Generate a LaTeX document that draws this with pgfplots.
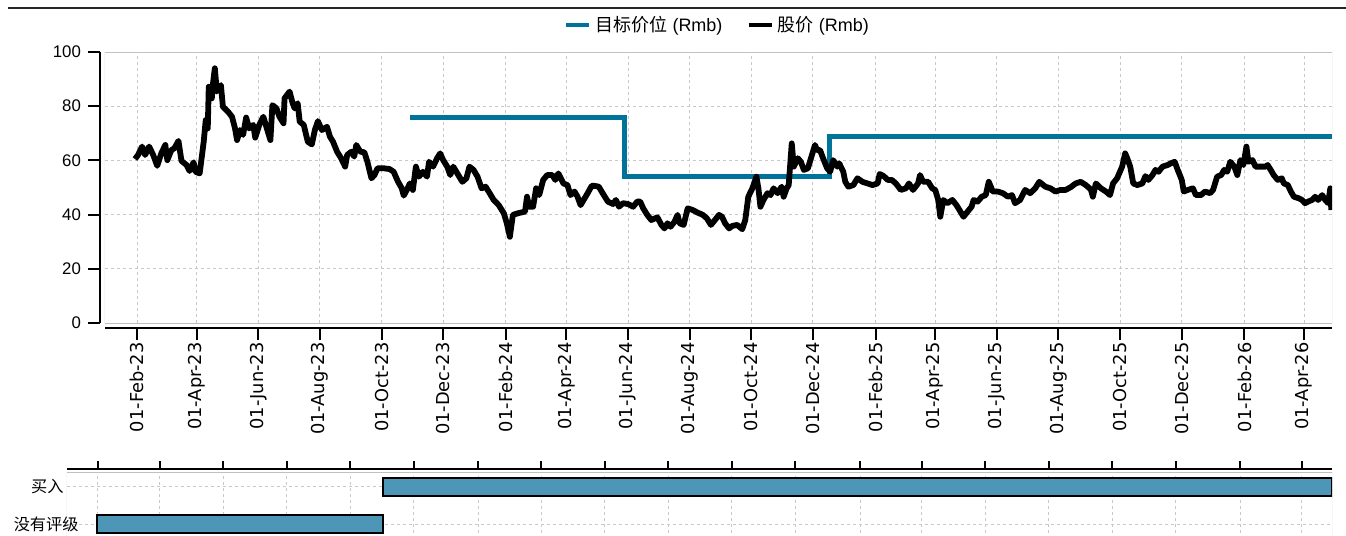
\documentclass[border=0pt]{standalone}
\usepackage{fontspec}
\setmainfont{Liberation Sans}
\newfontfamily\cjk{Noto Sans CJK SC}
\newfontfamily\dejavu{DejaVu Sans}
\usepackage{pgfplots}
\usepackage{pgfplotstable}
\pgfplotsset{compat=1.18}

\definecolor{tgtblue}{RGB}{0,115,152}
\definecolor{barblue}{RGB}{78,150,184}
\definecolor{gridgray}{RGB}{200,200,200}
\definecolor{framegray}{RGB}{192,192,192}

% day = days since 2023-01-01, price in Rmb
\pgfplotstableread{
day price
29 60.5
32 62.0
36 65.1
39 62.0
43 65.1
47 62.0
51 58.0
55 62.6
59 65.7
61 60.1
65 63.8
68 64.5
72 67.2
75 59.8
80 58.3
83 56.1
87 59.3
89 55.8
93 55.2
97 66.9
99 74.9
101 71.8
102 87.2
105 82.9
106 87.8
108 94.0
110 85.4
114 87.8
116 79.8
121 78.0
125 76.1
128 71.8
130 67.5
133 71.2
136 69.4
139 75.8
142 71.8
146 73.1
148 68.4
152 73.1
156 76.1
159 72.4
163 67.5
165 80.4
169 79.2
172 76.1
176 73.7
177 82.9
182 85.4
185 81.1
187 79.2
190 81.1
192 74.3
196 73.1
200 66.9
204 65.9
207 71.2
210 74.5
214 71.2
219 72.4
222 68.7
225 66.9
229 63.2
233 60.8
237 57.7
239 62.0
243 63.2
246 61.4
248 65.7
252 63.2
256 63.0
259 59.5
263 53.4
266 54.6
269 57.1
275 57.1
281 56.8
285 55.8
289 52.4
293 49.7
295 47.0
298 49.1
301 51.5
304 49.1
307 57.7
310 54.0
314 55.8
318 54.0
320 59.5
324 57.7
328 60.8
331 62.6
334 60.1
338 57.7
341 54.6
344 57.7
348 55.2
353 52.1
357 53.4
360 57.7
364 56.5
368 54.0
372 49.7
376 50.3
380 47.9
384 45.4
389 43.5
394 40.5
397 36.8
400 31.8
403 39.9
408 40.5
415 41.1
417 46.6
419 42.9
423 42.9
426 49.7
429 47.2
433 52.8
437 54.6
442 54.6
445 52.8
448 55.2
453 51.5
457 50.9
460 47.2
464 48.5
467 46.6
470 43.5
473 45.4
477 47.9
481 50.6
484 50.6
488 50.3
493 47.2
497 44.8
502 43.9
505 45.4
508 42.9
512 44.2
517 43.9
522 42.9
526 44.8
529 44.8
532 42.3
536 39.9
540 38.0
546 39.0
550 36.2
553 34.9
556 36.8
559 35.5
563 37.4
566 39.9
568 36.8
572 36.2
576 42.3
581 41.7
586 40.7
591 39.9
595 38.6
599 36.2
603 38.0
607 39.9
610 39.2
613 36.8
617 34.9
620 35.8
625 36.2
630 34.6
633 38.0
636 46.6
640 49.7
644 54.0
646 49.7
648 42.9
651 45.4
655 47.9
658 47.2
661 49.7
665 47.9
669 50.3
671 46.6
674 49.7
676 50.9
679 66.3
681 57.7
685 60.8
688 59.5
691 56.5
695 57.1
698 60.8
702 65.7
704 63.8
707 63.8
710 60.8
714 57.1
717 55.8
720 60.1
724 57.7
726 58.9
730 55.8
732 52.1
735 50.3
740 50.9
744 53.4
749 52.1
754 51.5
759 50.9
764 51.5
766 55.0
770 54.2
774 52.8
778 52.8
782 51.5
787 49.1
792 49.7
795 51.5
799 49.1
804 51.5
806 54.6
809 52.1
814 52.1
818 49.7
821 49.1
824 45.4
826 39.2
829 45.4
833 44.2
838 45.4
842 43.5
845 41.7
849 39.2
853 41.1
857 42.9
859 45.4
863 44.8
867 46.6
871 47.2
874 52.1
878 48.5
883 48.5
888 47.9
893 46.6
897 47.2
900 44.2
905 45.4
910 49.1
915 47.9
920 49.7
924 52.1
930 50.3
935 49.7
940 48.5
945 49.1
950 49.1
955 50.1
960 51.5
965 52.1
970 50.9
975 49.3
977 46.6
980 51.5
985 49.7
990 48.5
994 47.2
997 51.5
1001 53.4
1006 57.7
1009 62.6
1011 60.8
1014 57.7
1017 51.5
1021 50.9
1026 51.5
1029 54.2
1032 52.8
1036 54.6
1039 56.5
1042 55.8
1046 57.7
1051 58.3
1054 58.9
1058 59.5
1061 56.5
1065 52.8
1067 48.5
1071 49.1
1076 49.7
1079 47.2
1084 47.2
1088 48.5
1093 47.9
1096 49.1
1100 54.0
1104 54.6
1107 56.5
1110 55.8
1113 59.5
1117 57.7
1120 54.6
1123 60.1
1126 58.3
1129 65.1
1131 59.5
1135 60.1
1138 57.7
1143 57.7
1148 57.7
1150 58.3
1153 56.5
1156 54.6
1160 52.8
1164 53.4
1166 51.5
1170 50.9
1173 48.5
1176 46.6
1181 46.0
1184 45.4
1187 44.2
1190 44.8
1194 45.4
1197 46.6
1200 45.4
1204 47.2
1207 45.4
1210 44.2
1212 49.7
1213 41.7
}\pricetable

\begin{document}
\begin{tikzpicture}
\path[use as bounding box] (-52.5pt,-106.5pt) rectangle (620.5pt,161.5pt);
\draw[line width=1pt, black!85] (-48.5pt,157.25pt) -- (620.5pt,157.25pt);

\begin{axis}[
  at={(0pt,0pt)}, anchor=south west,
  scale only axis, width=613.5pt, height=135.5pt,
  xmin=-0.7, xmax=1213.7, ymin=0, ymax=100,
  axis lines*=left, axis line shift=2.5pt,
  axis line style={line width=1.2pt, black},
  tick align=outside, major tick length=6pt,
  tick style={line width=1pt, black},
  xtick={31,90,151,212,273,334,396,456,517,578,639,700,762,821,882,943,1004,1065,1127,1186},
  xticklabels={01-Feb-23,01-Apr-23,01-Jun-23,01-Aug-23,01-Oct-23,01-Dec-23,01-Feb-24,01-Apr-24,01-Jun-24,01-Aug-24,01-Oct-24,01-Dec-24,01-Feb-25,01-Apr-25,01-Jun-25,01-Aug-25,01-Oct-25,01-Dec-25,01-Feb-26,01-Apr-26},
  xticklabel style={font=\dejavu\fontsize{8.9}{10}\selectfont, rotate=90, anchor=east, inner sep=1pt},
  ytick={0,20,40,60,80,100},
  yticklabel style={font=\fontsize{8.4}{10}\selectfont},
  /pgf/number format/assume math mode=true,
  grid=major,
  grid style={gridgray, line width=0.5pt, dash pattern=on 1.5pt off 1.5pt},
  legend style={at={(0.5,1.0996)}, anchor=center, draw=none, fill=none,
    legend columns=-1, font=\fontsize{9}{11}\selectfont,
    /tikz/every even column/.append style={column sep=10pt}},
  legend image code/.code={\draw[#1, line width=2.2pt] (0pt,0pt) -- (11.5pt,0pt);},
]
\draw[framegray, line width=0.5pt] (rel axis cs:0,0) rectangle (rel axis cs:1,1);
\addplot[tgtblue, line width=2.5pt, const plot] coordinates {
  (301,76) (513,54.2) (716,69) (1213.7,69)};
\addlegendentry{{\cjk 目标价位} (Rmb)}
\addplot[black, line width=2.9pt, line join=round] table[x=day, y=price] {\pricetable};
\addlegendentry{{\cjk 股价} (Rmb)}
\end{axis}

\begin{axis}[
  at={(-19pt,-74.5pt)}, anchor=north west,
  scale only axis, width=632.5pt, height=33.5pt,
  xmin=1.26, xmax=1214.8, ymin=-0.405, ymax=1.405,
  axis x line*=top, axis y line*=left, axis x line shift=1.5pt,
  x axis line style={line width=1pt, black},
  y axis line style={draw=none},
  tick align=outside, major tick length=4pt,
  xtick style={line width=1pt, black},
  xtick={31,90,151,212,273,334,396,456,517,578,639,700,762,821,882,943,1004,1065,1127,1186},
  xticklabels={},
  ytick={0,1}, yticklabels={没有评级\kern-7.5pt, 买入},
  ytick style={draw=none},
  yticklabel style={font=\cjk\fontsize{8.1}{10}\selectfont, inner sep=1pt, xshift=3.5pt},
  grid=major,
  grid style={gridgray, line width=0.5pt, dash pattern=on 1.5pt off 1.5pt},
]
\draw[framegray, line width=0.5pt] (rel axis cs:0,0) rectangle (rel axis cs:1,1);
\addplot[draw=black, fill=barblue, line width=0.8pt] coordinates {
  (30,-0.243) (304.4,-0.243) (304.4,0.243) (30,0.243)} -- cycle;
\addplot[draw=black, fill=barblue, line width=0.8pt] coordinates {
  (304.4,0.757) (1214.8,0.757) (1214.8,1.243) (304.4,1.243)} -- cycle;
\end{axis}
\end{tikzpicture}
\end{document}
